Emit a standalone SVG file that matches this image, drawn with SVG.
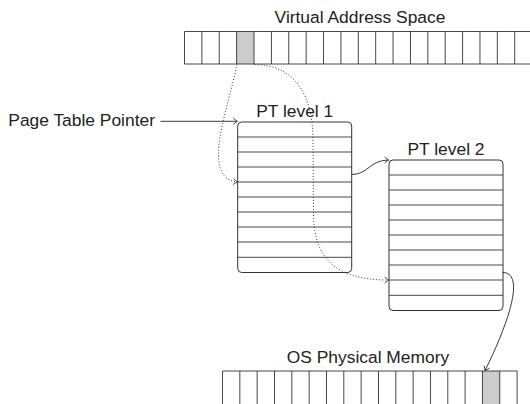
<svg xmlns="http://www.w3.org/2000/svg" width="530" height="404" viewBox="0 0 530 404">
<style>
  text { font-family: "Liberation Sans", Arial, sans-serif; font-size: 17.4px; fill: #222; }
  .cell { fill: none; stroke: #333; stroke-width: 0.9; }
  .box { fill: #fff; stroke: #333; stroke-width: 1; }
  .row { stroke: #333; stroke-width: 0.9; fill: none; }
  .shade { fill: #cccccc; stroke: none; }
  .solid { fill: none; stroke: #222; stroke-width: 0.9; }
  .dot { fill: none; stroke: #333; stroke-width: 1; stroke-dasharray: 1 2; }
</style>
<defs>
  <marker id="arr" viewBox="-5 -4 6 8" refX="0" refY="0" markerWidth="6" markerHeight="8" markerUnits="userSpaceOnUse" orient="auto">
    <path d="M-4,-3 Q-1.2,-0.8 0,0 Q-1.2,0.8 -4,3" fill="none" stroke="#222" stroke-width="0.8"/>
  </marker>
</defs>

<g id="virtual-address-space">
  <text x="360" y="22.5" text-anchor="middle">Virtual Address Space</text>
  <rect class="shade" x="236.64" y="31.5" width="17.38" height="32.5"/>
  <path class="cell" d="M184.5,31.5 H540 M184.5,64 H540
    M184.5,31.5 V64 M201.88,31.5 V64 M219.26,31.5 V64 M236.64,31.5 V64 M254.02,31.5 V64
    M271.4,31.5 V64 M288.78,31.5 V64 M306.16,31.5 V64 M323.54,31.5 V64 M340.92,31.5 V64
    M358.3,31.5 V64 M375.68,31.5 V64 M393.06,31.5 V64 M410.44,31.5 V64 M427.82,31.5 V64
    M445.2,31.5 V64 M462.58,31.5 V64 M479.96,31.5 V64 M497.34,31.5 V64 M514.72,31.5 V64"/>
</g>

<g id="page-table-pointer">
  <text x="8.3" y="126">Page Table Pointer</text>
</g>

<g id="pt-level-1">
  <text x="294.7" y="117" text-anchor="middle">PT level 1</text>
  <rect class="box" x="237.7" y="122" width="114" height="150.5" rx="4" ry="4"/>
  <path class="row" d="M237.7,137 H351.7 M237.7,152 H351.7 M237.7,167 H351.7 M237.7,182 H351.7 M237.7,197 H351.7 M237.7,212 H351.7 M237.7,227 H351.7 M237.7,242 H351.7 M237.7,257.3 H351.7"/>
</g>

<g id="pt-level-2">
  <text x="446" y="155" text-anchor="middle">PT level 2</text>
  <rect class="box" x="389" y="160" width="114" height="150.5" rx="4" ry="4"/>
  <path class="row" d="M389,175 H503 M389,190 H503 M389,205 H503 M389,220 H503 M389,235 H503 M389,250 H503 M389,265 H503 M389,280 H503 M389,295.3 H503"/>
</g>

<g id="os-physical-memory">
  <text x="368" y="363" text-anchor="middle">OS Physical Memory</text>
  <rect class="shade" x="482.45" y="371" width="17.33" height="40"/>
  <path class="cell" d="M222.5,371 H517.11 M222.5,371 V410
    M239.83,371 V410 M257.16,371 V410 M274.49,371 V410 M291.82,371 V410 M309.15,371 V410
    M326.48,371 V410 M343.81,371 V410 M361.14,371 V410 M378.47,371 V410 M395.8,371 V410
    M413.13,371 V410 M430.46,371 V410 M447.79,371 V410 M465.12,371 V410 M482.45,371 V410
    M499.78,371 V410 M517.11,371 V410"/>
</g>

<g id="connectors">
  <path class="solid" d="M160.5,121.3 H237.3" marker-end="url(#arr)"/>
  <path class="dot" d="M237,64.5 C228,110 200,178 237.3,182" marker-end="url(#arr)"/>
  <path class="dot" d="M254.5,64.5 C295,65 313,95 313,140 L313.5,215 C314,262 340,280 388.6,280" marker-end="url(#arr)"/>
  <path class="solid" d="M351.7,174.5 C368,174.5 370,160 388.6,160" marker-end="url(#arr)"/>
  <path class="solid" d="M502.7,272.5 C525,272.5 510,320 485,370.6" marker-end="url(#arr)"/>
</g>
</svg>
